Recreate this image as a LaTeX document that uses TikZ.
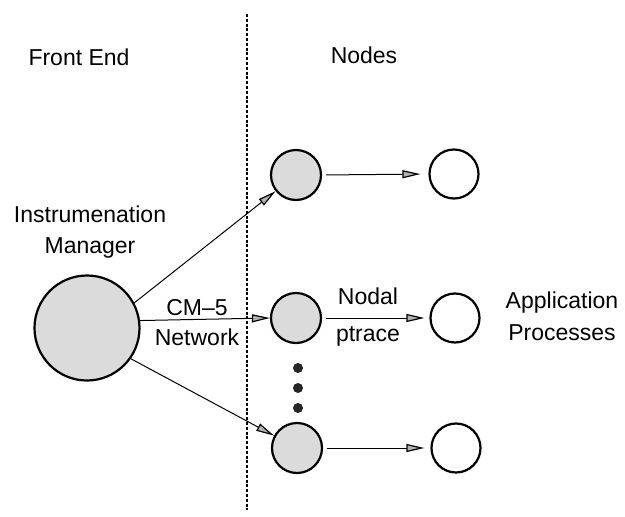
\documentclass[tikz,border=0pt]{standalone}
\usepackage{fontspec}
\setmainfont{Liberation Sans}
\usetikzlibrary{arrows.meta}
\begin{document}
\begin{tikzpicture}[x=1pt,y=-1pt,
  circ/.style={circle,draw=black,line width=2.2pt,inner sep=0pt},
  graycirc/.style={circ,fill=gray!28,minimum size=50pt},
  whitecirc/.style={circ,fill=white,minimum size=49pt},
  bigcirc/.style={circ,fill=gray!28,minimum size=105pt},
  dotc/.style={circle,fill=black!85,inner sep=0pt,minimum size=10pt},
  lab/.style={font=\fontsize{23}{27}\selectfont,inner sep=0pt,align=center},
  arr/.style={line width=1pt,-{Triangle[length=18pt,width=8pt,fill=gray!60,line width=1.2pt]}},
  divider/.style={line width=1.8pt,dash pattern=on 3pt off 1.8pt}]
\useasboundingbox (0,0) rectangle (625,517);
\coordinate (dtop) at (247,14);
\coordinate (dbot) at (247,510);
\draw[divider] (dtop) -- (dbot);

\node[lab] (fe) at (79,57) {Front End};
\node[lab] (nodes) at (364,55) {Nodes};
\node[lab,font=\fontsize{23}{31}\selectfont] (im) at (90,232) {Instrumenation\\Manager};
\node[lab,font=\fontsize{23}{30}\selectfont] (cm) at (197,323) {CM--5\\Network};
\node[lab,font=\fontsize{23}{37}\selectfont] (np) at (368,317) {Nodal\\ptrace};
\node[lab,font=\fontsize{23}{32}\selectfont] (ap) at (562,316) {Application\\Processes};

\node[bigcirc] (big) at (87,328) {};
\node[graycirc] (n1) at (296,175) {};
\node[graycirc] (n2) at (296,318) {};
\node[graycirc] (n3) at (297,448) {};
\node[whitecirc] (a1) at (454,174) {};
\node[whitecirc] (a2) at (455,318) {};
\node[whitecirc] (a3) at (456,448) {};
\node[dotc] (d1) at (298,368) {};
\node[dotc] (d2) at (298,388) {};
\node[dotc] (d3) at (298,408) {};

\draw[arr] (big.28) -- (n1);
\draw[arr] (big.8) -- (n2.west);
\draw[arr] (big.-35) -- (n3);
\draw[arr,shorten <=4pt,shorten >=8pt] (n1.east) -- (a1.west);
\draw[arr,shorten <=4pt,shorten >=5pt] (n2.east) -- (a2.west);
\draw[arr,shorten <=4pt,shorten >=6pt] (n3.east) -- (a3.west);
\end{tikzpicture}
\end{document}
